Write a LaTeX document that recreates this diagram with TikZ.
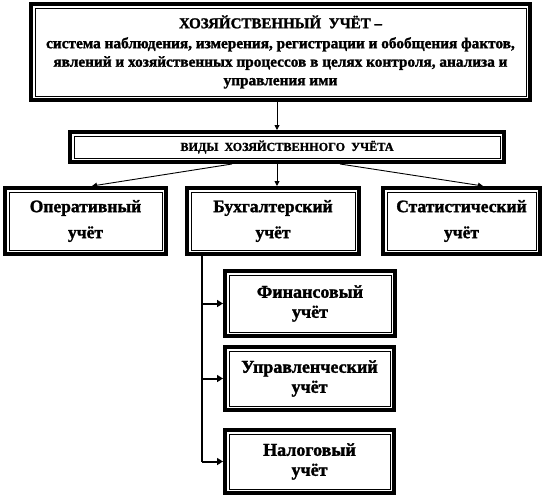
\documentclass[tikz,border=0pt]{standalone}
\usepackage{fontspec}
\setmainfont{Liberation Serif}[BoldFeatures={FakeBold=1.5}]
\usetikzlibrary{arrows.meta}

\begin{document}
\begin{tikzpicture}[x=1pt,y=-1pt,
  frame/.style={draw, line width=4pt, align=center, inner sep=0pt,
    font=\bfseries\fontsize{17.5}{26}\selectfont,
    path picture={\draw[line width=1pt]
      ([shift={(4pt,4pt)}]path picture bounding box.south west) rectangle
      ([shift={(-4pt,-4pt)}]path picture bounding box.north east);}},
  subframe/.style={frame, font=\bfseries\fontsize{18}{20}\selectfont},
  thinarrow/.style={-{Triangle[length=5pt,width=5pt]}, line width=0.9pt},
  thickarrow/.style={-{Triangle[length=6pt,width=7pt]}, line width=2pt}]
\useasboundingbox[fill=white] (0,0) rectangle (546,498);

\node[frame, minimum width=499pt, minimum height=96pt,
  font=\bfseries\fontsize{15.3}{18.5}\selectfont] (econ) at (280.5,52)
  {{\fontsize{15}{18}\selectfont ХОЗЯЙСТВЕННЫЙ\ \ УЧЁТ –}\\[1.5pt]
   система наблюдения, измерения, регистрации и обобщения фактов,\\
   явлений и хозяйственных процессов в целях контроля, анализа и\\
   управления ими};
\node[frame, minimum width=434pt, minimum height=30pt,
  font=\bfseries\fontsize{12.2}{14}\selectfont] (kinds) at (287,147)
  {ВИДЫ\ \ ХОЗЯЙСТВЕННОГО\ \ УЧЁТА};

\node[frame, minimum width=161pt, minimum height=66pt] (oper) at (85.5,221) {Оперативный\\учёт};
\node[frame, minimum width=172pt, minimum height=66pt] (buh) at (273,221) {Бухгалтерский\\учёт};
\node[frame, minimum width=157pt, minimum height=66pt] (stat) at (461.5,221) {Статистический\\учёт};

\node[subframe, minimum width=170pt, minimum height=65pt] (fin) at (310,303.5) {Финансовый\\учёт};
\node[subframe, minimum width=169pt, minimum height=63pt] (upr) at (309.5,378.5) {Управленческий\\учёт};
\node[subframe, minimum width=169pt, minimum height=63pt] (nal) at (309.5,461.5) {Налоговый\\учёт};

\draw[thinarrow] (econ.south -| 277,0) -- (kinds.north -| 277,0);
\draw[thinarrow] (kinds.south -| 277,0) -- (buh.north -| 277,0);
\draw[thinarrow] (kinds.south -| 232,0) -- (oper.north -| 92,0);
\draw[thinarrow] (kinds.south -| 340,0) -- (stat.north -| 483,0);

\coordinate (spine) at ([xshift=17pt]buh.south west);
\draw[line width=2pt] (spine) -- (spine |- nal.west);
\foreach \leaf in {fin,upr,nal}
  \draw[thickarrow] (spine |- \leaf.west) -- (\leaf.west);
\end{tikzpicture}
\end{document}
